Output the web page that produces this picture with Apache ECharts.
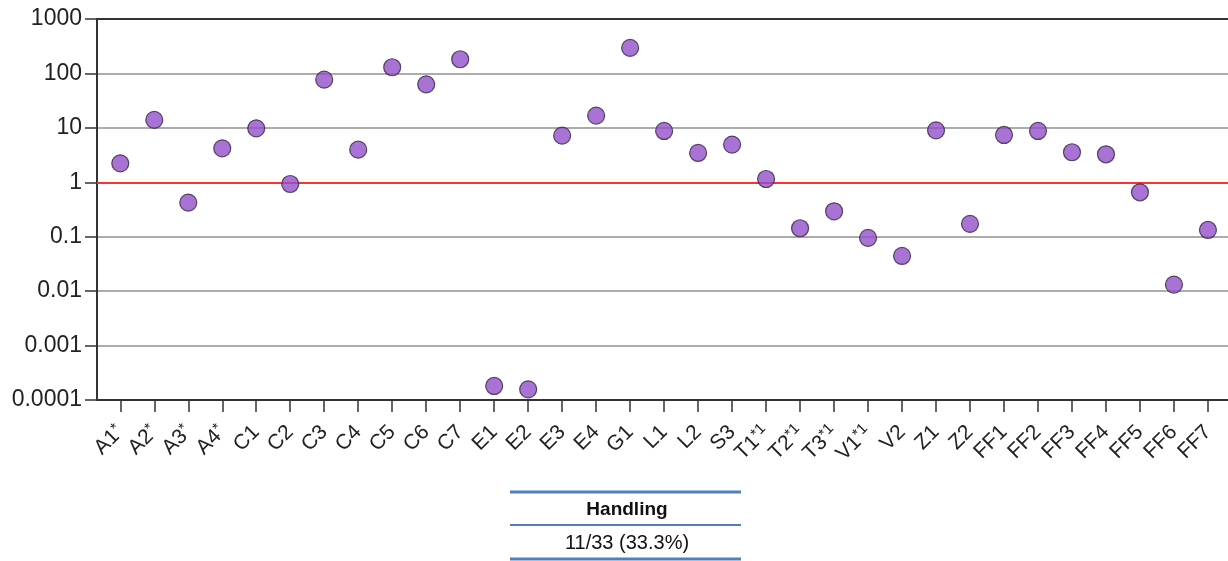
<!DOCTYPE html>
<html>
<head>
<meta charset="utf-8">
<script src="https://cdn.jsdelivr.net/npm/echarts@6/dist/echarts.min.js"></script>
<style>
html,body{margin:0;padding:0;background:#fff;}
#chart{width:1228px;height:561px;}
</style>
</head>
<body>
<div id="chart"></div>
<script>
// ---- data ----
const categories = ["A1*","A2*","A3*","A4*","C1","C2","C3","C4","C5","C6","C7","E1","E2","E3","E4","G1","L1","L2","S3","T1*1","T2*1","T3*1","V1*1","V2","Z1","Z2","FF1","FF2","FF3","FF4","FF5","FF6","FF7"];
const values = [2.23,14.0,0.423,4.2,9.8,0.93,76.9,3.98,130,63,182,0.000181,0.000157,7.2,16.8,294,8.77,3.46,4.92,1.15,0.143,0.293,0.095,0.0443,9.0,0.172,7.4,8.77,3.56,3.27,0.655,0.0132,0.133];
const yTickValues = [0.0001,0.001,0.01,0.1,1,10,100,1000];
const referenceValue = 1;
const tableHeader = "Handling";
const tableValue = "11/33 (33.3%)";

// ---- chart ----
const chart = echarts.init(document.getElementById('chart'), null, {renderer: 'canvas'});
const idx = categories.map((_, i) => i);
const seriesData = values.map((v, i) => [i, v]);

function fmtLabel(i) {
  const name = categories[i];
  if (name === undefined) return '';
  const k = name.indexOf('*');
  if (k < 0) return '{b|' + name + '}';
  return '{b|' + name.slice(0, k) + '}{s|' + name.slice(k) + '}';
}

const FONT = '"Liberation Sans", Arial, sans-serif';
const tableX = 627;

chart.setOption({
  animation: false,
  backgroundColor: '#ffffff',
  grid: {left: 97, right: 0, top: 19, bottom: 161, containLabel: false},
  xAxis: [{
    type: 'value',
    min: -0.685,
    max: 32.59,
    position: 'bottom',
    axisLine: {show: true, onZero: false, lineStyle: {color: '#333', width: 2}},
    axisTick: {show: true, customValues: idx, length: 12, lineStyle: {color: '#333', width: 1.5}},
    splitLine: {show: false},
    axisLabel: {
      customValues: idx,
      rotate: 45,
      margin: 29,
      color: '#222',
      fontFamily: FONT,
      formatter: v => fmtLabel(Math.round(v)),
      rich: {
        b: {fontSize: 21, fontFamily: FONT, color: '#222'},
        s: {fontSize: 15, fontFamily: FONT, color: '#222', verticalAlign: 'top', padding: [0,0,8,0]}
      }
    }
  }, {
    type: 'value',
    min: -0.685,
    max: 32.59,
    position: 'top',
    axisLine: {show: true, onZero: false, lineStyle: {color: '#333', width: 2}},
    axisTick: {show: false},
    axisLabel: {show: false},
    splitLine: {show: false}
  }],
  yAxis: {
    type: 'log',
    logBase: 10,
    min: yTickValues[0],
    max: yTickValues[yTickValues.length - 1],
    axisLine: {show: true, onZero: false, lineStyle: {color: '#333', width: 2}},
    axisTick: {show: true, length: 12, lineStyle: {color: '#333', width: 1.5}},
    splitLine: {show: true, lineStyle: {color: '#909090', width: 1.5}},
    axisLabel: {
      margin: 15,
      fontSize: 23,
      fontFamily: FONT,
      color: '#222',
      formatter: v => String(Number(Number(v).toPrecision(6)))
    }
  },
  series: [{
    type: 'scatter',
    xAxisIndex: 0,
    data: seriesData,
    symbol: 'circle',
    symbolSize: 17,
    itemStyle: {color: '#9450cc', borderColor: '#33263f', borderWidth: 1.2},
    markLine: {
      silent: true,
      symbol: 'none',
      label: {show: false},
      lineStyle: {color: '#ff3030', width: 2, type: 'solid'},
      data: [{yAxis: referenceValue}]
    },
    z: 5
  }],
  graphic: [
    {type: 'line', shape: {x1: 510, y1: 492, x2: 741, y2: 492}, style: {stroke: '#4f7fbf', lineWidth: 3}},
    {type: 'line', shape: {x1: 510, y1: 525, x2: 741, y2: 525}, style: {stroke: '#4f7fbf', lineWidth: 2}},
    {type: 'line', shape: {x1: 510, y1: 559, x2: 741, y2: 559}, style: {stroke: '#4f7fbf', lineWidth: 3}},
    {type: 'text', x: tableX, y: 510, style: {text: tableHeader, font: 'bold 19px ' + FONT, fill: '#111', align: 'center', verticalAlign: 'middle'}},
    {type: 'text', x: tableX, y: 543, style: {text: tableValue, font: '20px ' + FONT, fill: '#111', align: 'center', verticalAlign: 'middle'}}
  ]
});
</script>
</body>
</html>
